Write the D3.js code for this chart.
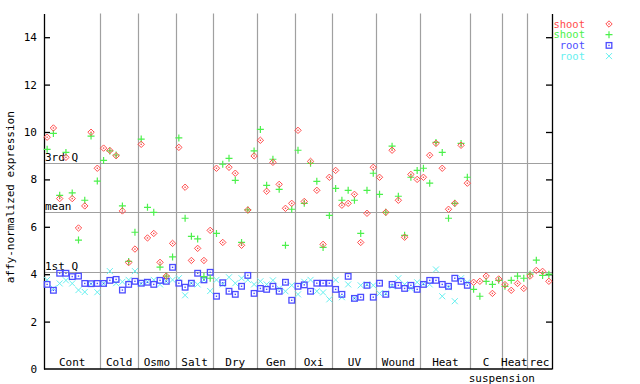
<!DOCTYPE html>
<html>
<head>
<meta charset="utf-8">
<script src="https://cdn.jsdelivr.net/npm/d3@7"></script>
<style>
  body { margin: 0; background: #fff; }
  text { font-family: "DejaVu Sans Mono", monospace; font-size: 11px; }
</style>
</head>
<body>
<div id="chart"></div>
<script>
// groups along the x axis (number of samples in each)
var groupNames = ["Cont", "Cold", "Osmo", "Salt", "Dry", "Gen", "Oxi", "UV", "Wound", "Heat", "C suspension", "Heat", "rec"];
var groupSizes = [9, 6, 6, 6, 7, 6, 6, 7, 7, 8, 5, 4, 4];

// expression values, one per sample (null = no value)
var shootRed = [9.78, 10.17, 7.19, 8.93, 7.19, 5.95, 6.88, 9.99, 8.47,
  9.32, 9.22, 9.0, 6.67, 4.49, 5.06,
  9.48, 5.53, 5.72, 4.5, 3.92, 5.3,
  9.35, 7.67, 4.58, 5.09, 4.58, 5.85,
  8.47, 5.34, 8.51, 8.26, 5.22, 6.71, 8.99,
  9.65, 7.5, 8.72, 7.79, 6.78, 6.99,
  10.07, 7.07, 8.76, 7.54, 5.26, 8.09,
  8.38, 6.91, 6.99, 7.37, 5.34, 6.57, 8.51,
  8.09, 6.61, 9.23, 7.12, 5.56, 8.21, 8.0,
  8.09, 9.02, 9.52, 8.47, 6.74, 6.99, 9.44, 7.84,
  3.66, 3.7, 3.92, 3.19, 3.8,
  3.56, 3.32, 3.61, 3.4,
  3.92, 4.16, 4.12, 3.7];
var shootGreen = [9.27, 9.94, 7.33, 9.14, 7.43, 5.44, 7.12, 9.83, 7.93,
  8.8, 9.2, 9.03, 6.88, 4.54, 5.77,
  9.7, 6.82, 6.61, 4.3, 3.92, 4.73,
  9.75, 6.36, 5.6, 5.49, 3.9, 3.83,
  5.72, 8.64, 8.89, 7.96, 5.34, 6.71, 9.2,
  10.11, 7.75, 8.85, 7.58, 5.22, 6.74,
  9.23, 6.99, 8.68, 7.92, 5.13, 6.48,
  7.62, 7.12, 7.54, 7.12, 5.72, 7.54, 8.26,
  7.37, 6.61, 9.4, 7.29, 5.64, 8.09, 8.38,
  8.47, 7.84, 9.56, 9.14, 6.36, 6.99, 9.52, 8.09,
  3.36, 3.07, 3.7, 3.57, 3.74,
  3.49, 3.74, 3.92, 3.83,
  4.0, 4.59, 3.95, 4.0];
var rootBlue = [3.57, 3.32, 4.04, 4.04, 3.9, 3.92, 3.61, 3.6, 3.61,
  3.61, 3.74, 3.78, 3.33, 3.57, 3.7,
  3.62, 3.66, 3.57, 3.74, 3.7, 4.29,
  3.62, 3.45, 3.62, 4.04, 3.76, 4.08,
  3.07, 3.64, 3.28, 3.15, 3.49, 3.95, 3.19,
  3.4, 3.36, 3.49, 3.28, 3.66, 2.9,
  3.49, 3.55, 3.28, 3.62, 3.62, 3.62,
  3.36, 3.15, 3.91, 2.98, 3.03, 3.53, 3.03,
  3.62, 3.15, 3.57, 3.53, 3.4, 3.53, 3.36,
  3.57, 3.74, 3.74, 3.57, 3.49, 3.83, 3.7, 3.53,
  null, null, null, null, null, null, null, null, null, null, null, null, null];
var rootCyan = [3.76, 3.4, 3.61, 3.74, 3.61, 3.33, 3.25, 3.6, 3.24,
  3.61, 4.13, 3.62, 3.68, 3.76, 4.13,
  3.6, 3.68, 3.76, 3.57, 3.7, 3.76,
  3.83, 3.11, 3.62, 3.57, 3.76, 3.29,
  3.76, 3.57, 3.87, 3.62, 3.83, 3.76, 3.57,
  3.7, 3.57, 3.74, 3.4, 3.28, 3.53,
  3.15, 3.68, 3.76, 3.28, 3.23, 2.94,
  3.76, 3.03, 3.57, 2.98, 3.53, 3.57, 3.53,
  3.19, 3.19, 3.49, 3.83, 3.57, 3.4, 3.66,
  3.6, 3.57, 4.2, 3.07, 3.45, 2.86, 3.83, 3.66,
  null, null, null, null, null, null, null, null, null, null, null, null, null];

var yTicks = [0, 2, 4, 6, 8, 10, 12, 14];
var refLabels = ["3rd Q", "mean", "1st Q"];
var refValues = [8.68, 6.61, 4.08];

var legendLabels = ["shoot", "shoot", "root", "root"];
var seriesColors = ["#ff4c4c", "#4cf04c", "#4c4cff", "#66f0f0"];
var seriesShapes = ["diamond", "plus", "square", "cross"];
var seriesData = [shootRed, shootGreen, rootBlue, rootCyan];

var W = 640, H = 384;
var plotL = 44, plotR = 552, plotT = 13.5, plotB = 369;

var svg = d3.select("#chart").append("svg")
    .attr("width", W)
    .attr("height", H);

var nSamples = d3.sum(groupSizes);
var x = d3.scaleBand()
    .domain(d3.range(nSamples))
    .range([plotL, plotR]);
var y = d3.scaleLinear()
    .domain([0, 15])
    .range([plotB, plotT]);

function cx(i) { return x(i) + x.bandwidth() / 2; }

// group boundaries
var starts = [];
var acc = 0;
groupSizes.forEach(function(n) { starts.push(acc); acc += n; });

svg.append("g").selectAll("line")
    .data(starts.slice(1))
    .enter().append("line")
      .attr("x1", function(d) { return Math.round(x(d)) + 0.5; })
      .attr("x2", function(d) { return Math.round(x(d)) + 0.5; })
      .attr("y1", plotT)
      .attr("y2", plotB)
      .attr("stroke", "#a0a0a0")
      .attr("stroke-width", 1.2);

// quartile / mean lines
svg.append("g").selectAll("line")
    .data(refValues)
    .enter().append("line")
      .attr("x1", plotL)
      .attr("x2", plotR)
      .attr("y1", function(d) { return Math.round(y(d)) + 0.5; })
      .attr("y2", function(d) { return Math.round(y(d)) + 0.5; })
      .attr("stroke", "#a0a0a0")
      .attr("stroke-width", 1.2);

svg.append("g").selectAll("text")
    .data(refValues)
    .enter().append("text")
      .attr("x", plotL + 1)
      .attr("y", function(d) { return Math.round(y(d)) - 2; })
      .attr("fill", "#000")
      .text(function(d, i) { return refLabels[i]; });

// axes
var axisL = svg.append("g")
    .attr("transform", "translate(" + plotL + ",0)")
    .call(d3.axisLeft(y).tickValues(yTicks).tickSize(-6).tickPadding(7).tickSizeOuter(0));
var axisR = svg.append("g")
    .attr("transform", "translate(" + plotR + ",0)")
    .call(d3.axisRight(y).tickValues(yTicks).tickSize(-6).tickFormat("").tickSizeOuter(0));
[axisL, axisR].forEach(function(a) {
  a.select(".domain").attr("stroke", "#000").attr("stroke-width", 1.3);
  a.selectAll(".tick line").attr("stroke", "#000").attr("stroke-width", 1.3);
  a.selectAll(".tick text")
    .style("font-family", "DejaVu Sans Mono, monospace")
    .style("font-size", "11px")
    .attr("fill", "#000");
});
axisL.selectAll(".tick").filter(function(d) { return d === 0; }).select("line").remove();
axisR.selectAll(".tick").filter(function(d) { return d === 0; }).select("line").remove();

svg.append("line")
    .attr("x1", plotL).attr("x2", plotR)
    .attr("y1", plotB).attr("y2", plotB)
    .attr("stroke", "#000").attr("stroke-width", 1.3);

svg.append("text")
    .attr("transform", "translate(14," + ((plotT + plotB) / 2 + 6) + ") rotate(-90)")
    .attr("text-anchor", "middle")
    .attr("fill", "#000")
    .text("affy-normalized expression");

// group labels
groupNames.forEach(function(name, g) {
  var s = starts[g], n = groupSizes[g];
  var mid = (x(s) + x(s + n - 1) + x.bandwidth()) / 2;
  var parts = name === "C suspension" ? ["C", "suspension"] : [name];
  svg.append("text")
      .attr("x", mid)
      .attr("y", plotB - 3)
      .attr("text-anchor", "middle")
      .attr("fill", "#000")
      .text(parts[0]);
  if (parts.length > 1) {
    svg.append("text")
        .attr("x", x(s + n - 1) + x.bandwidth())
        .attr("y", plotB + 13)
        .attr("text-anchor", "middle")
        .attr("fill", "#000")
        .text(parts[1]);
  }
});

// markers
function drawMarker(g, shape, px, py, color) {
  if (shape === "diamond") {
    g.append("path")
      .attr("d", "M" + px + "," + (py - 3.2) + "L" + (px + 3.2) + "," + py +
                 "L" + px + "," + (py + 3.2) + "L" + (px - 3.2) + "," + py + "Z")
      .attr("fill", "none").attr("stroke", color).attr("stroke-width", 1);
    g.append("rect").attr("x", px - 0.7).attr("y", py - 0.7)
      .attr("width", 1.4).attr("height", 1.4).attr("fill", color);
  } else if (shape === "plus") {
    g.append("path")
      .attr("d", "M" + (px - 3.5) + "," + py + "H" + (px + 3.5) +
                 "M" + px + "," + (py - 3.5) + "V" + (py + 3.5))
      .attr("stroke", color).attr("stroke-width", 1.2);
  } else if (shape === "square") {
    g.append("rect").attr("x", px - 2.8).attr("y", py - 2.8)
      .attr("width", 5.6).attr("height", 5.6)
      .attr("fill", "none").attr("stroke", color).attr("stroke-width", 1.3);
    g.append("rect").attr("x", px - 0.7).attr("y", py - 0.7)
      .attr("width", 1.4).attr("height", 1.4).attr("fill", color);
  } else {
    g.append("path")
      .attr("d", "M" + (px - 3) + "," + (py - 3) + "L" + (px + 3) + "," + (py + 3) +
                 "M" + (px + 3) + "," + (py - 3) + "L" + (px - 3) + "," + (py + 3))
      .attr("stroke", color).attr("stroke-width", 1);
  }
}

var order = [3, 2, 1, 0];
order.forEach(function(k) {
  var g = svg.append("g");
  seriesData[k].forEach(function(v, i) {
    if (v == null) return;
    drawMarker(g, seriesShapes[k], cx(i), y(v), seriesColors[k]);
  });
});

// legend
var lg = svg.append("g");
legendLabels.forEach(function(lab, k) {
  var ly = 24 + k * 10.7;
  lg.append("text")
    .attr("x", 585)
    .attr("y", ly + 3.5)
    .attr("text-anchor", "end")
    .attr("fill", seriesColors[k])
    .style("font-size", "10.5px")
    .text(lab);
  drawMarker(lg, seriesShapes[k], 609, ly, seriesColors[k]);
});
</script>
</body>
</html>
